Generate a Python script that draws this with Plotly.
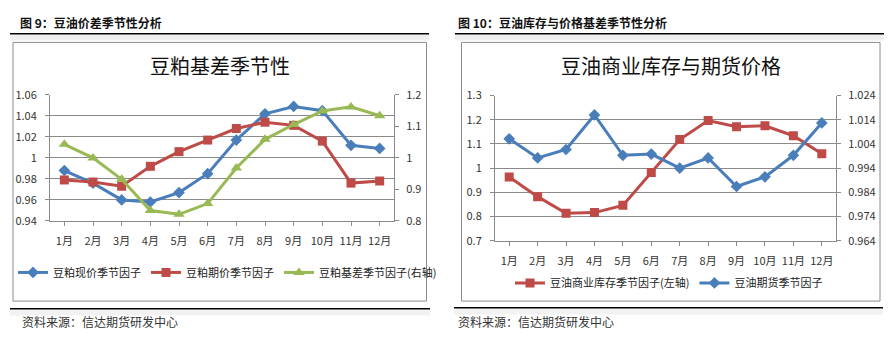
import plotly.graph_objects as go

W, H = 894, 352

months = ["1月", "2月", "3月", "4月", "5月", "6月", "7月", "8月", "9月", "10月", "11月", "12月"]

# Left chart: 豆粕基差季节性
meal_spot = [0.988, 0.976, 0.960, 0.958, 0.967, 0.985, 1.017, 1.042, 1.049, 1.045, 1.012, 1.009]
meal_fut = [0.979, 0.977, 0.973, 0.992, 1.006, 1.017, 1.028, 1.034, 1.031, 1.016, 0.976, 0.978]
meal_basis = [1.043, 1.000, 0.932, 0.833, 0.821, 0.855, 0.968, 1.059, 1.106, 1.149, 1.162, 1.134]

left_y_ticks = [0.94, 0.96, 0.98, 1.00, 1.02, 1.04, 1.06]
left_y_text = ["0.94", "0.96", "0.98", "1", "1.02", "1.04", "1.06"]
left_y2_ticks = [0.8, 0.9, 1.0, 1.1, 1.2]
left_y2_text = ["0.8", "0.9", "1", "1.1", "1.2"]

# Right chart: 豆油商业库存与期货价格
oil_stock = [0.963, 0.882, 0.813, 0.816, 0.846, 0.982, 1.118, 1.197, 1.171, 1.175, 1.134, 1.059]
oil_fut = [1.0061, 0.9982, 1.0017, 1.0160, 0.9993, 0.9998, 0.9940, 0.9982, 0.9864, 0.9904, 0.9993, 1.0127]

right_y_ticks = [0.7, 0.8, 0.9, 1.0, 1.1, 1.2, 1.3]
right_y_text = ["0.7", "0.8", "0.9", "1", "1.1", "1.2", "1.3"]
right_y2_ticks = [0.964, 0.974, 0.984, 0.994, 1.004, 1.014, 1.024]
right_y2_text = ["0.964", "0.974", "0.984", "0.994", "1.004", "1.014", "1.024"]

BLUE = "#4A7EBB"
RED = "#BE4B48"
GREEN = "#98B954"
GRID = "#8A8A8A"
FONT = "Noto Sans CJK SC"


def px(x):
    return x / W


def py(y):
    return (H - y) / H


fig = go.Figure()

fig.add_trace(go.Scatter(x=months, y=meal_spot, name="豆粕现价季节因子", mode="lines+markers",
                         line=dict(color=BLUE, width=3), marker=dict(symbol="diamond", size=9, color=BLUE),
                         xaxis="x", yaxis="y", legend="legend"))
fig.add_trace(go.Scatter(x=months, y=meal_fut, name="豆粕期价季节因子", mode="lines+markers",
                         line=dict(color=RED, width=3), marker=dict(symbol="square", size=9, color=RED),
                         xaxis="x", yaxis="y", legend="legend"))
fig.add_trace(go.Scatter(x=months, y=meal_basis, name="豆粕基差季节因子(右轴)", mode="lines+markers",
                         line=dict(color=GREEN, width=3), marker=dict(symbol="triangle-up", size=10, color=GREEN),
                         xaxis="x", yaxis="y2", legend="legend"))

fig.add_trace(go.Scatter(x=months, y=oil_stock, name="豆油商业库存季节因子(左轴)", mode="lines+markers",
                         line=dict(color=RED, width=3), marker=dict(symbol="square", size=9, color=RED),
                         xaxis="x2", yaxis="y3", legend="legend2"))
fig.add_trace(go.Scatter(x=months, y=oil_fut, name="豆油期货季节因子", mode="lines+markers",
                         line=dict(color=BLUE, width=3), marker=dict(symbol="diamond", size=9, color=BLUE),
                         xaxis="x2", yaxis="y4", legend="legend2"))

tickfont = dict(family=FONT, size=11, color="#333333")
axis_common = dict(showline=True, linecolor=GRID, linewidth=1, ticks="outside", ticklen=4,
                   tickcolor=GRID, tickfont=tickfont, zeroline=False, fixedrange=True)

fig.update_layout(
    width=W, height=H, margin=dict(l=0, r=0, t=0, b=0),
    paper_bgcolor="white", plot_bgcolor="white",
    font=dict(family=FONT, color="#222222"),
    xaxis=dict(domain=[px(50), px(394)], anchor="y", type="category", range=[-0.5, 11.5],
               showgrid=False, ticklabelstandoff=6, **axis_common),
    yaxis=dict(domain=[py(222), py(90)], anchor="x", range=[0.94, 1.06], tickvals=left_y_ticks,
               ticktext=left_y_text, showgrid=True, gridcolor=GRID, gridwidth=1,
               ticklabelstandoff=6, **axis_common),
    yaxis2=dict(overlaying="y", side="right", anchor="x", range=[0.8, 1.2], tickvals=left_y2_ticks,
                ticktext=left_y2_text, showgrid=False, ticklabelstandoff=5, **axis_common),
    xaxis2=dict(domain=[px(495), px(836)], anchor="y3", type="category", range=[-0.5, 11.5],
                showgrid=False, ticklabelstandoff=6, **axis_common),
    yaxis3=dict(domain=[py(242.7), py(90.7)], anchor="x2", range=[0.7, 1.3], tickvals=right_y_ticks,
                ticktext=right_y_text, showgrid=True, gridcolor=GRID, gridwidth=1,
                ticklabelstandoff=6, **axis_common),
    yaxis4=dict(overlaying="y3", side="right", anchor="x2", range=[0.964, 1.024], tickvals=right_y2_ticks,
                ticktext=right_y2_text, showgrid=False, ticklabelstandoff=5, **axis_common),
    legend=dict(orientation="h", x=px(13), y=py(276), xanchor="left", yanchor="middle",
                font=dict(family=FONT, size=11, color="#222222"), bgcolor="rgba(0,0,0,0)",
                itemwidth=30),
    legend2=dict(orientation="h", x=px(510), y=py(287), xanchor="left", yanchor="middle",
                 font=dict(family=FONT, size=11, color="#222222"), bgcolor="rgba(0,0,0,0)",
                 itemwidth=30),
    showlegend=True,
)

shapes = []
# header rules with light shadow
for x0, x1 in [(10, 429), (455, 884)]:
    shapes.append(dict(type="rect", xref="paper", yref="paper", x0=px(x0), x1=px(x1), y0=py(33), y1=py(27),
                       fillcolor="#EFEFEF", line=dict(width=0), layer="below"))
    shapes.append(dict(type="line", xref="paper", yref="paper", x0=px(x0), x1=px(x1), y0=py(26), y1=py(26),
                       line=dict(color="black", width=1.5)))
# footer rules
for x0, x1, yy in [(10, 430, 314), (454, 883, 313)]:
    shapes.append(dict(type="rect", xref="paper", yref="paper", x0=px(x0), x1=px(x1), y0=py(yy + 7), y1=py(yy + 1),
                       fillcolor="#F2F2F2", line=dict(width=0), layer="below"))
    shapes.append(dict(type="line", xref="paper", yref="paper", x0=px(x0), x1=px(x1), y0=py(yy), y1=py(yy),
                       line=dict(color="black", width=1.5)))
# chart boxes
for x0, x1 in [(13, 426.5), (461.5, 880)]:
    shapes.append(dict(type="rect", xref="paper", yref="paper", x0=px(x0), x1=px(x1), y0=py(306), y1=py(35),
                       line=dict(color="#8C8C8C", width=1), fillcolor="rgba(0,0,0,0)", layer="below"))
fig.update_layout(shapes=shapes)

annotations = [
    dict(text="<b>图 9：豆油价差季节性分析</b>", x=px(18), y=py(14), xanchor="left", yanchor="middle",
         font=dict(family=FONT, size=12, color="#111111")),
    dict(text="<b>图 10：豆油库存与价格基差季节性分析</b>", x=px(456), y=py(14), xanchor="left", yanchor="middle",
         font=dict(family=FONT, size=12, color="#111111")),
    dict(text="豆粕基差季节性", x=px(220), y=py(59), xanchor="center", yanchor="middle",
         font=dict(family=FONT, size=20, color="#111111")),
    dict(text="豆油商业库存与期货价格", x=px(671), y=py(59), xanchor="center", yanchor="middle",
         font=dict(family=FONT, size=20, color="#111111")),
    dict(text="资料来源：信达期货研发中心", x=px(20), y=py(327), xanchor="left", yanchor="middle",
         font=dict(family=FONT, size=12, color="#333333")),
    dict(text="资料来源：信达期货研发中心", x=px(456), y=py(327), xanchor="left", yanchor="middle",
         font=dict(family=FONT, size=12, color="#333333")),
]
for a in annotations:
    a.update(xref="paper", yref="paper", showarrow=False)
fig.update_layout(annotations=annotations)

fig.write_html("out.html")
